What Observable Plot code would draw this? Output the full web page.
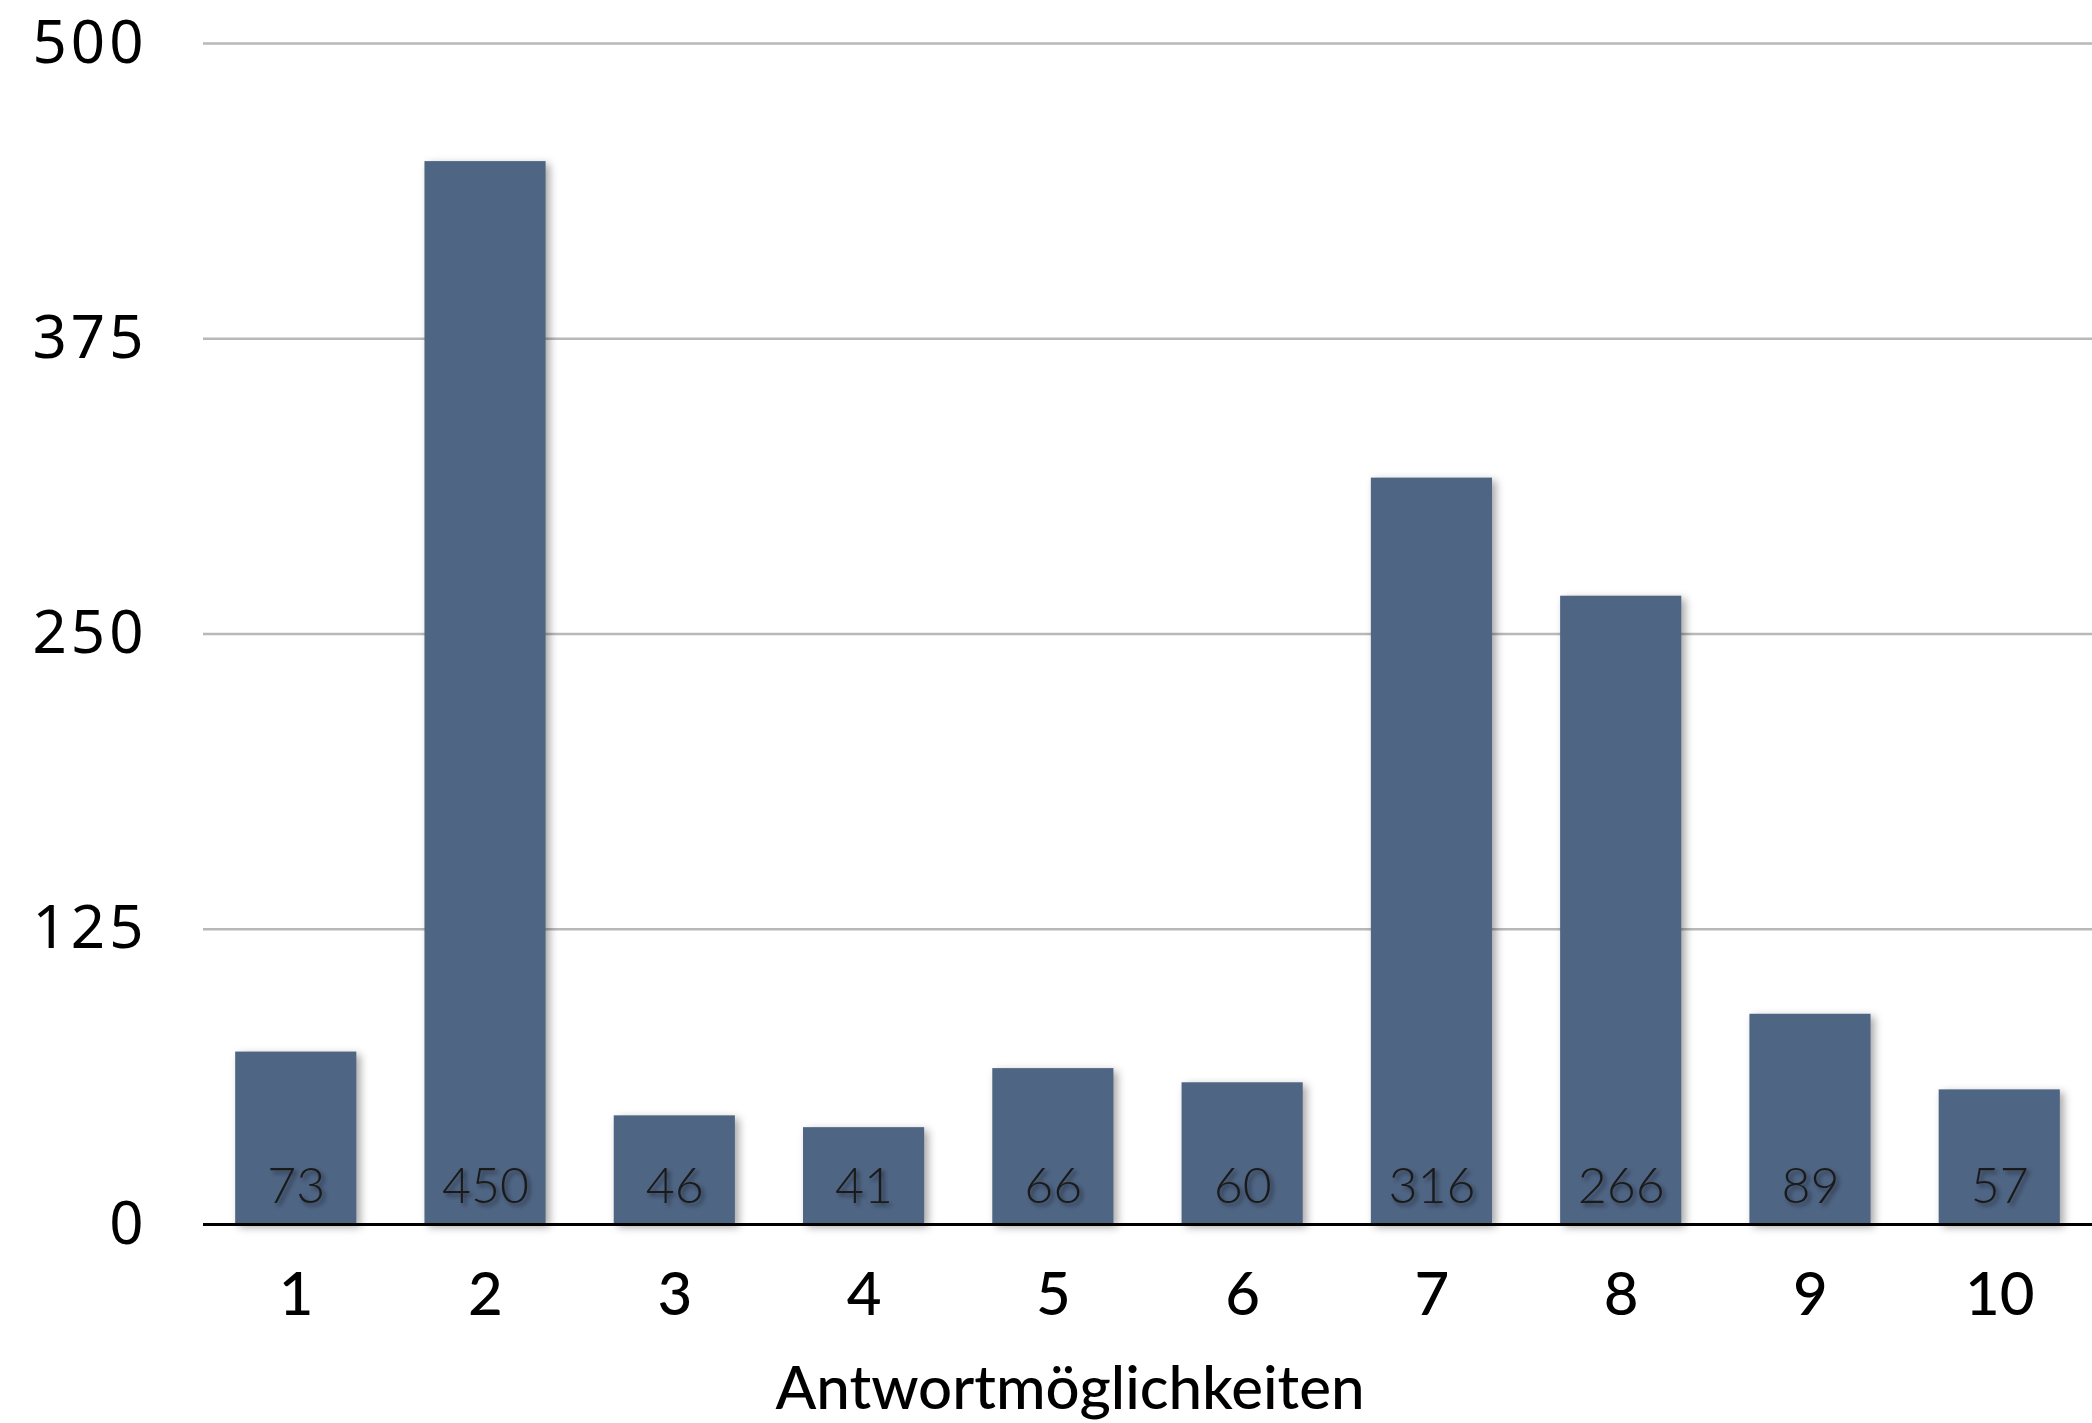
<!DOCTYPE html>
<html><head><meta charset="utf-8">
<script src="https://cdn.jsdelivr.net/npm/d3@7"></script>
<script src="https://cdn.jsdelivr.net/npm/@observablehq/plot@0.6"></script>
<style>
body{margin:0;background:#fff;}
#chart svg g[aria-label="bar"] rect{filter:drop-shadow(4px 3px 4px rgba(0,0,0,0.35));}
#chart svg g.vals text{filter:drop-shadow(3px 3px 2px rgba(0,0,0,0.45));}
#chart svg g[aria-label="y-axis tick label"] text{letter-spacing:4px;}
</style></head>
<body><div id="chart"></div>
<script>
const categories = ["1","2","3","4","5","6","7","8","9","10"];
const values = [73,450,46,41,66,60,316,266,89,57];
const yTicks = [0,125,250,375,500];
const xTitle = "Antwortmöglichkeiten";

const data = categories.map((c,i)=>({c, v: values[i]}));

const plot = Plot.plot({
  width: 2092, height: 1423,
  marginLeft: 203, marginRight: 0, marginTop: 43, marginBottom: 199,
  style: {background: "#fff", overflow: "visible", color: "#000"},
  x: {domain: categories, paddingInner: 0.36, paddingOuter: 0.17, round: false, label: null},
  y: {domain: [0, 500], label: null},
  marks: [
    Plot.gridY(yTicks, {stroke: "#b8b8b8", strokeOpacity: 1, strokeWidth: 2.5}),
    Plot.barY(data, {x: "c", y: "v", fill: "#4f6584"}),
    Plot.ruleY([0], {stroke: "#000", strokeWidth: 3}),
    Plot.text(data, {x: "c", y: 0, text: d => String(d.v), dy: -38, fontSize: 50, fontWeight: 300, fill: "#1a1a1a", fontFamily: "Lato", className: "vals"}),
    Plot.axisY(yTicks, {tickSize: 0, tickPadding: 56, fontSize: 60, fontFamily: "Noto Sans", label: null, tickFormat: d => String(d)}),
    Plot.axisX({tickSize: 0, tickPadding: 48, fontSize: 60, fontFamily: "Lato", fontWeight: 500, label: null}),
    Plot.text([xTitle], {frameAnchor: "bottom", dy: 184, dx: -78, fontSize: 60, fontFamily: "Lato", fontWeight: 500, fill: "#000"})
  ]
});
document.getElementById("chart").appendChild(plot);
</script>
</body></html>
